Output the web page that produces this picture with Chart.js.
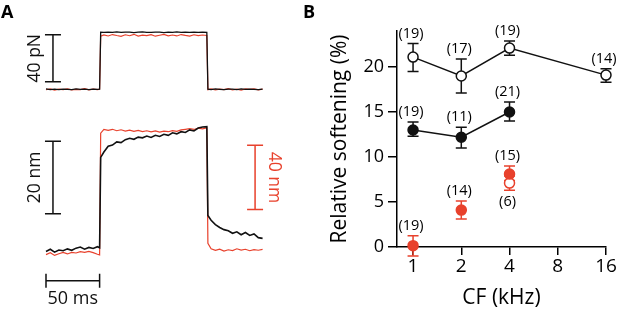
<!DOCTYPE html>
<html>
<head>
<meta charset="utf-8">
<script src="https://cdn.jsdelivr.net/npm/chart.js@4"></script>
<style>
  html, body { margin: 0; padding: 0; background: #fff; }
  #wrap { position: relative; width: 617px; height: 312px; overflow: hidden; }
  canvas { position: absolute; top: 0; }
  #traces { left: 0; }
  #summary { left: 300px; }
  .tag { position: absolute; font: bold 18px 'Open Sans', sans-serif; line-height: 1; color: #000; }
</style>
</head>
<body>
<div id="wrap">
  <canvas id="traces" width="300" height="312"></canvas>
  <canvas id="summary" width="317" height="312"></canvas>
  <div class="tag" style="left:1px; top:2px;">A</div>
  <div class="tag" style="left:303px; top:2px;">B</div>
</div>
<script>
// ---- panel A: example traces (time in ms) ----
const TIME_MS = [0, 4, 8, 12, 16, 20, 24, 28, 32, 36, 40, 44, 48, 50, 51,
  54, 58, 62, 66, 70, 74, 78, 82, 86, 90, 94, 98, 102, 106, 110, 114, 118, 122, 126, 130, 134, 138, 142, 146,
  150, 151, 154, 158, 162, 166, 170, 174, 178, 182, 186, 190, 194, 198, 202];

// force (pN)
const FORCE_BLACK = [0.3, -0.2, 0.1, -0.3, 0.2, 0.0, -0.2, 0.3, -0.1, 0.2, -0.3, 0.1, 0.0, 0.2, 48.6,
  48.4, 48.7, 48.5, 48.8, 48.4, 48.6, 48.7, 48.3, 48.6, 48.8, 48.5, 48.4, 48.7, 48.6, 48.3, 48.7, 48.5, 48.8, 48.4, 48.6, 48.5, 48.7, 48.4, 48.6,
  48.5, 0.2, -0.2, 0.3, 0.0, -0.3, 0.2, 0.1, -0.2, 0.3, -0.1, 0.2, 0.0, -0.3, 0.1];
const FORCE_RED = [-0.4, 0.3, -0.6, 0.1, -0.3, 0.4, -0.5, 0.0, -0.2, 0.5, -0.4, 0.2, -0.3, 0.1, 45.2,
  46.3, 45.4, 46.6, 45.8, 45.1, 46.4, 45.6, 46.8, 45.3, 46.1, 45.7, 46.5, 45.2, 46.0, 46.7, 45.5, 46.2, 45.4, 46.6, 45.9, 45.3, 46.4, 45.7, 46.2,
  45.8, -0.3, 0.4, -0.5, 0.2, -0.2, 0.5, -0.4, 0.1, -0.6, 0.3, -0.1, 0.4, -0.5, 0.2];

// displacement (nm)
const DISP_BLACK = [-0.4, 0.2, -0.6, 0.0, -0.2, 0.3, -0.1, 0.5, 0.8, 0.2, 0.7, 0.4, 0.9, 0.6, 25.5,
  27.0, 28.6, 28.9, 29.8, 29.6, 30.4, 30.8, 30.5, 31.1, 30.9, 31.4, 31.0, 31.6, 31.3, 31.9, 31.6, 32.3, 32.0, 32.6, 32.4, 33.1, 32.8, 33.6, 33.9,
  34.0, 9.5, 8.2, 7.0, 6.2, 5.6, 5.3, 4.6, 5.0, 4.2, 4.8, 4.0, 4.4, 3.4, 3.2];
const DISP_RED = [-1.0, 0.2, -1.5, -0.5, 0.3, -0.6, 0.4, 0.0, 0.8, 0.4, 1.0, 0.2, -0.8, -1.2, 74.5,
  76.8, 76.2, 76.9, 76.0, 76.6, 75.8, 76.4, 75.6, 76.2, 75.5, 76.0, 75.3, 75.9, 75.2, 75.8, 75.4, 76.1, 75.6, 76.5, 76.9, 77.3, 76.8, 77.6, 77.2,
  77.8, 6.0, 2.6, 1.6, 2.4, 1.2, 2.0, 1.5, 2.6, 1.8, 2.3, 1.4, 2.1, 1.7, 2.2];

// scale bars (data units of the axis they sit on)
const FORCE_BAR = { t: 6.5, lo: 6.5, hi: 46.5, text: '40 pN' };
const DISP_BAR = { t: 6.5, lo: 10, hi: 30, text: '20 nm' };
const RED_BAR = { t: 195, lo: 27, hi: 67, text: '40 nm' };
const TIME_BAR = { from: 0, to: 50, at: -8.5, text: '50 ms' };

// ---- panel B: relative softening vs CF ----
const CF_TICKS = [1, 2, 4, 8, 16];
const Y_TICKS = [0, 5, 10, 15, 20];

const CF_OPEN = [1, 2, 4, 16];
const OPEN_MEAN = [21.1, 19.0, 22.1, 19.1];
const OPEN_LO = [19.5, 17.1, 21.3, 18.3];
const OPEN_HI = [22.6, 20.9, 22.9, 19.8];
const OPEN_N = ['(19)', '(17)', '(19)', '(14)'];

const CF_FILLED = [1, 2, 4];
const FILLED_MEAN = [13.0, 12.2, 15.0];
const FILLED_LO = [12.3, 11.0, 14.0];
const FILLED_HI = [13.9, 13.3, 16.1];
const FILLED_N = ['(19)', '(11)', '(21)'];

const CF_RED = [1, 2, 4];
const RED_MEAN = [0.15, 4.1, 8.1];
const RED_LO = [-1.0, 3.1, 7.4];
const RED_HI = [1.26, 5.1, 9.0];
const RED_N = ['(19)', '(14)', '(15)'];

const CF_RED_OPEN = [4];
const RED_OPEN_MEAN = [7.1];
const RED_OPEN_LO = [6.3];
const RED_OPEN_HI = [7.9];
const RED_OPEN_N = ['(6)'];

const BLACK = '#111111';
const RED = '#e8412c';
const FONT = "'Open Sans', sans-serif";

Chart.defaults.font.family = FONT;
Chart.defaults.color = '#000';

// ---------- panel A ----------
function vBar(ctx, x, y1, y2, color) {
  ctx.strokeStyle = color;
  ctx.lineWidth = 1.5;
  ctx.beginPath();
  ctx.moveTo(x, y1); ctx.lineTo(x, y2);
  ctx.moveTo(x - 8, y1); ctx.lineTo(x + 8, y1);
  ctx.moveTo(x - 8, y2); ctx.lineTo(x + 8, y2);
  ctx.stroke();
}

function rotText(ctx, text, x, y, angle, color) {
  ctx.save();
  ctx.translate(x, y);
  ctx.rotate(angle);
  ctx.fillStyle = color;
  ctx.textAlign = 'center';
  ctx.textBaseline = 'middle';
  ctx.fillText(text, 0, 0);
  ctx.restore();
}

const scaleBars = {
  id: 'scaleBars',
  afterDraw(chart) {
    const { ctx } = chart;
    const sx = chart.scales.x, sf = chart.scales.force, sb = chart.scales.dispBlack, sr = chart.scales.dispRed;
    ctx.save();
    ctx.font = '17.5px ' + FONT;

    let x = sx.getPixelForValue(FORCE_BAR.t);
    let a = sf.getPixelForValue(FORCE_BAR.lo), b = sf.getPixelForValue(FORCE_BAR.hi);
    vBar(ctx, x, a, b, BLACK);
    rotText(ctx, FORCE_BAR.text, x - 17.5, (a + b) / 2, -Math.PI / 2, BLACK);

    x = sx.getPixelForValue(DISP_BAR.t);
    a = sb.getPixelForValue(DISP_BAR.lo); b = sb.getPixelForValue(DISP_BAR.hi);
    vBar(ctx, x, a, b, BLACK);
    rotText(ctx, DISP_BAR.text, x - 17.5, (a + b) / 2, -Math.PI / 2, BLACK);

    x = sx.getPixelForValue(RED_BAR.t);
    a = sr.getPixelForValue(RED_BAR.lo); b = sr.getPixelForValue(RED_BAR.hi);
    vBar(ctx, x, a, b, RED);
    rotText(ctx, RED_BAR.text, x + 19, (a + b) / 2, Math.PI / 2, RED);

    ctx.font = '18px ' + FONT;
    const x1 = sx.getPixelForValue(TIME_BAR.from), x2 = sx.getPixelForValue(TIME_BAR.to);
    const y = sb.getPixelForValue(TIME_BAR.at);
    ctx.strokeStyle = BLACK;
    ctx.lineWidth = 1.5;
    ctx.beginPath();
    ctx.moveTo(x1, y); ctx.lineTo(x2, y);
    ctx.moveTo(x1, y - 7); ctx.lineTo(x1, y + 7);
    ctx.moveTo(x2, y - 7); ctx.lineTo(x2, y + 7);
    ctx.stroke();
    rotText(ctx, TIME_BAR.text, (x1 + x2) / 2, y + 18, 0, BLACK);
    ctx.restore();
  }
};

new Chart(document.getElementById('traces'), {
  type: 'line',
  data: {
    labels: TIME_MS,
    datasets: [
      { data: FORCE_BLACK, yAxisID: 'force', borderColor: BLACK, borderWidth: 1.3, order: 1 },
      { data: FORCE_RED, yAxisID: 'force', borderColor: RED, borderWidth: 1.2, order: 2 },
      { data: DISP_BLACK, yAxisID: 'dispBlack', borderColor: BLACK, borderWidth: 1.6, order: 1 },
      { data: DISP_RED, yAxisID: 'dispRed', borderColor: RED, borderWidth: 1.2, order: 2 }
    ]
  },
  options: {
    responsive: false,
    animation: false,
    layout: { padding: 0 },
    elements: { point: { radius: 0 }, line: { tension: 0 } },
    plugins: { legend: { display: false }, tooltip: { enabled: false } },
    scales: {
      x: { type: 'linear', min: -42.9, max: 236.9, display: false },
      force: { type: 'linear', min: -189.5, max: 76, display: false },
      dispBlack: { type: 'linear', min: -17.1, max: 68.9, display: false },
      dispRed: { type: 'linear', min: -36.7, max: 157.3, display: false }
    }
  },
  plugins: [scaleBars]
});

// ---------- panel B ----------
function pts(xs, ys) { return xs.map((x, i) => ({ x: x, y: ys[i] })); }

const errorBars = {
  id: 'errorBars',
  beforeDatasetsDraw(chart) {
    const { ctx } = chart;
    const sx = chart.scales.x, sy = chart.scales.y;
    ctx.save();
    chart.data.datasets.forEach(ds => {
      ctx.strokeStyle = ds.borderColor;
      ctx.lineWidth = 1.5;
      ds.cf.forEach((c, i) => {
        const x = sx.getPixelForValue(c);
        const lo = sy.getPixelForValue(ds.lo[i]), hi = sy.getPixelForValue(ds.hi[i]);
        ctx.beginPath();
        ctx.moveTo(x, lo); ctx.lineTo(x, hi);
        ctx.moveTo(x - 5.5, lo); ctx.lineTo(x + 5.5, lo);
        ctx.moveTo(x - 5.5, hi); ctx.lineTo(x + 5.5, hi);
        ctx.stroke();
      });
    });
    ctx.restore();
  },
  afterDatasetsDraw(chart) {
    const { ctx } = chart;
    const sx = chart.scales.x, sy = chart.scales.y;
    ctx.save();
    ctx.font = '14.5px ' + FONT;
    ctx.fillStyle = '#000';
    ctx.textAlign = 'center';
    ctx.textBaseline = 'middle';
    chart.data.datasets.forEach(ds => {
      ds.cf.forEach((c, i) => {
        const x = sx.getPixelForValue(c) - 2;
        const y = ds.nBelow ? sy.getPixelForValue(ds.lo[i]) + 12 : sy.getPixelForValue(ds.hi[i]) - 10;
        ctx.fillText(ds.n[i], x, y);
      });
    });
    ctx.restore();
  }
};

const axisStyle = {
  grid: { display: true, drawOnChartArea: false, drawTicks: true, color: '#000', lineWidth: 1.5 },
  border: { display: true, color: '#000', width: 1.5 }
};

new Chart(document.getElementById('summary'), {
  type: 'scatter',
  data: {
    datasets: [
      { data: pts(CF_OPEN, OPEN_MEAN), cf: CF_OPEN, lo: OPEN_LO, hi: OPEN_HI, n: OPEN_N,
        showLine: true, borderColor: BLACK, backgroundColor: '#fff', pointBackgroundColor: '#fff', borderWidth: 1.5, order: 3 },
      { data: pts(CF_FILLED, FILLED_MEAN), cf: CF_FILLED, lo: FILLED_LO, hi: FILLED_HI, n: FILLED_N,
        showLine: true, borderColor: BLACK, backgroundColor: BLACK, pointBackgroundColor: BLACK, borderWidth: 1.5, order: 3 },
      { data: pts(CF_RED_OPEN, RED_OPEN_MEAN), cf: CF_RED_OPEN, lo: RED_OPEN_LO, hi: RED_OPEN_HI, n: RED_OPEN_N, nBelow: true,
        borderColor: RED, backgroundColor: '#fff', pointBackgroundColor: '#fff', borderWidth: 1.5, order: 2 },
      { data: pts(CF_RED, RED_MEAN), cf: CF_RED, lo: RED_LO, hi: RED_HI, n: RED_N,
        borderColor: RED, backgroundColor: RED, pointBackgroundColor: RED, borderWidth: 1.5, order: 1 }
    ]
  },
  options: {
    responsive: false,
    animation: false,
    layout: { padding: { top: 31, right: 11, left: 0, bottom: 0 } },
    elements: { point: { radius: 5, borderWidth: 1.5, hoverRadius: 5 } },
    datasets: { scatter: { clip: false } },
    plugins: { legend: { display: false }, tooltip: { enabled: false } },
    scales: {
      x: {
        type: 'logarithmic', min: 0.794, max: 16,
        afterBuildTicks: s => { s.ticks = CF_TICKS.map(v => ({ value: v })); },
        afterFit: s => { s.height = 65; },
        ...axisStyle,
        grid: { ...axisStyle.grid, tickLength: 8 },
        ticks: { callback: v => String(v), font: { size: 19 }, color: '#000', padding: 0, autoSkip: false, maxRotation: 0 },
        title: { display: true, text: 'CF (kHz)', font: { size: 21 }, color: '#000', padding: { top: 0, bottom: 1 } }
      },
      y: {
        type: 'linear', min: 0, max: 24,
        afterBuildTicks: s => { s.ticks = Y_TICKS.map(v => ({ value: v })); },
        afterFit: s => { s.width = 97; },
        ...axisStyle,
        grid: { ...axisStyle.grid, tickLength: 9 },
        ticks: { font: { size: 18 }, color: '#000', padding: 4 },
        title: { display: true, text: 'Relative softening (%)', font: { size: 21 }, color: '#000', padding: { top: 27, bottom: 0 } }
      }
    }
  },
  plugins: [errorBars]
});
</script>
</body>
</html>
